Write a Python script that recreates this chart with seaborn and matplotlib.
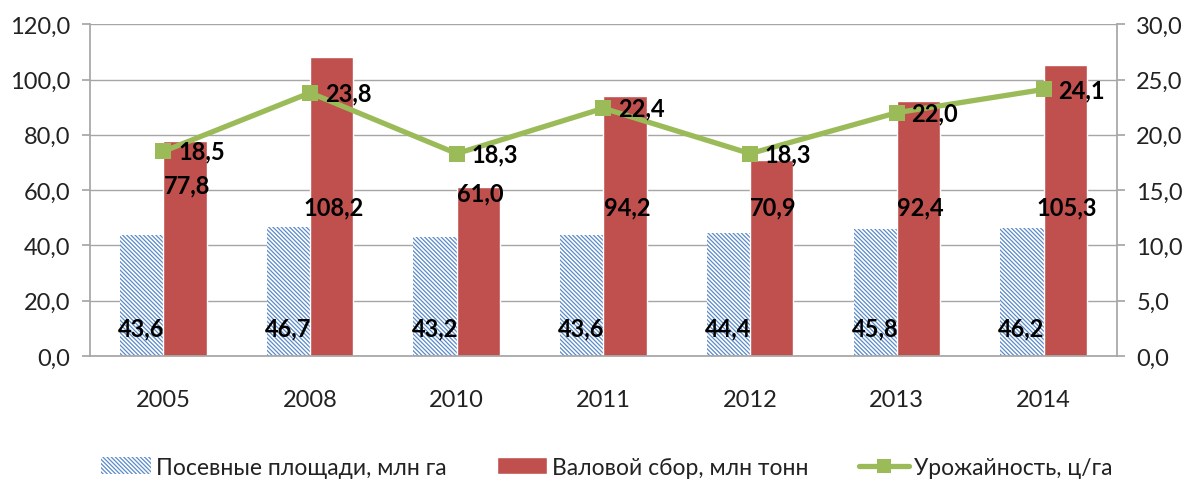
import numpy as np
import pandas as pd
import seaborn as sns
from matplotlib import pyplot as plt, ticker
from matplotlib.patches import Patch
from matplotlib.lines import Line2D

years = ['2005', '2008', '2010', '2011', '2012', '2013', '2014']
area = [43.6, 46.7, 43.2, 43.6, 44.4, 45.8, 46.2]
harvest = [77.8, 108.2, 61.0, 94.2, 70.9, 92.4, 105.3]
yields = [18.5, 23.8, 18.3, 22.4, 18.3, 22.0, 24.1]

s_area = 'Посевные площади, млн га'
s_harv = 'Валовой сбор, млн тонн'
s_yield = 'Урожайность, ц/га'

blue = '#5B8BC9'
red = '#C0504D'
green = '#9BBB59'
grid = '#A6A6A6'
hatch = '\\' * 8


def fmt(v):
    return f'{v:.1f}'.replace('.', ',')


df = pd.DataFrame({
    'year': years * 2,
    'value': area + harvest,
    'series': [s_area] * len(years) + [s_harv] * len(years),
})

sns.set_theme(style='white')
plt.rcParams['font.family'] = ['Lato', 'DejaVu Sans']
plt.rcParams['hatch.linewidth'] = 0.9

fig = plt.figure(figsize=(11.94, 4.85), dpi=100)
ax = fig.add_axes([0.0754, 0.264, 0.86, 0.684])

sns.barplot(df, x='year', y='value', hue='series', palette=[blue, red],
            width=0.59, ax=ax, legend=False, saturation=1)

for p in ax.containers[0]:
    p.set_facecolor('white')
    p.set_edgecolor(blue)
    p.set_hatch(hatch)
    p.set_linewidth(0)

ax.set_ylim(0, 120)
ax.set_yticks(np.arange(0, 121, 20))
ax.yaxis.set_major_formatter(ticker.FuncFormatter(lambda v, p: fmt(v)))
ax.grid(axis='y', color=grid, linewidth=1)
ax.set_axisbelow(True)
ax.set(xlabel='', ylabel='')
for s in ['left', 'bottom']:
    ax.spines[s].set_color(grid)
ax.spines['top'].set_visible(False)
ax.spines['right'].set_visible(False)
ax.tick_params(axis='y', left=True, length=6, color=grid, labelsize=17, pad=8,
               labelcolor='#222222')
ax.tick_params(axis='x', bottom=False, labelsize=17, pad=18, labelcolor='#222222')

# bar labels
for i, (a, h) in enumerate(zip(area, harvest)):
    ax.text(i - 0.15, 10, fmt(a), ha='center', va='center',
            fontsize=17, fontweight='bold', color='black')
    ly = 62 if i == 0 else (59 if i == 2 else 54)
    ax.text(i + 0.16, ly, fmt(h), ha='center', va='center',
            fontsize=17, fontweight='bold', color='black')

ax2 = ax.twinx()
sns.lineplot(x=np.arange(len(years)), y=yields, ax=ax2, color=green, linewidth=3.8,
             marker='s', markersize=11, markeredgewidth=0)
ax2.set_ylim(0, 30)
ax2.set_yticks(np.arange(0, 31, 5))
ax2.yaxis.set_major_formatter(ticker.FuncFormatter(lambda v, p: fmt(v)))
ax2.spines['right'].set_color(grid)
for s in ['left', 'top', 'bottom']:
    ax2.spines[s].set_visible(False)
ax2.tick_params(axis='y', right=True, length=6, color=grid, labelsize=17, pad=8,
                labelcolor='#222222')
ax2.grid(False)
for i, y in enumerate(yields):
    ax2.text(i + 0.1, y, fmt(y), ha='left', va='center',
             fontsize=17, fontweight='bold', color='black')
ax.set_xlim(-0.5, len(years) - 0.5)

handles = [
    Patch(facecolor='white', edgecolor=blue, hatch=hatch, linewidth=0, label=s_area),
    Patch(facecolor=red, label=s_harv),
    Line2D([], [], color=green, linewidth=3.8, marker='s', markersize=10,
           markeredgewidth=0, label=s_yield),
]
fig.legend(handles=handles, loc='center', bbox_to_anchor=(0.508, 0.035), ncol=3,
           frameon=False, fontsize=16.5, handlelength=2.2, handletextpad=0.2,
           columnspacing=2.2, labelcolor='#222222')

fig.savefig('out.png', dpi=100)
